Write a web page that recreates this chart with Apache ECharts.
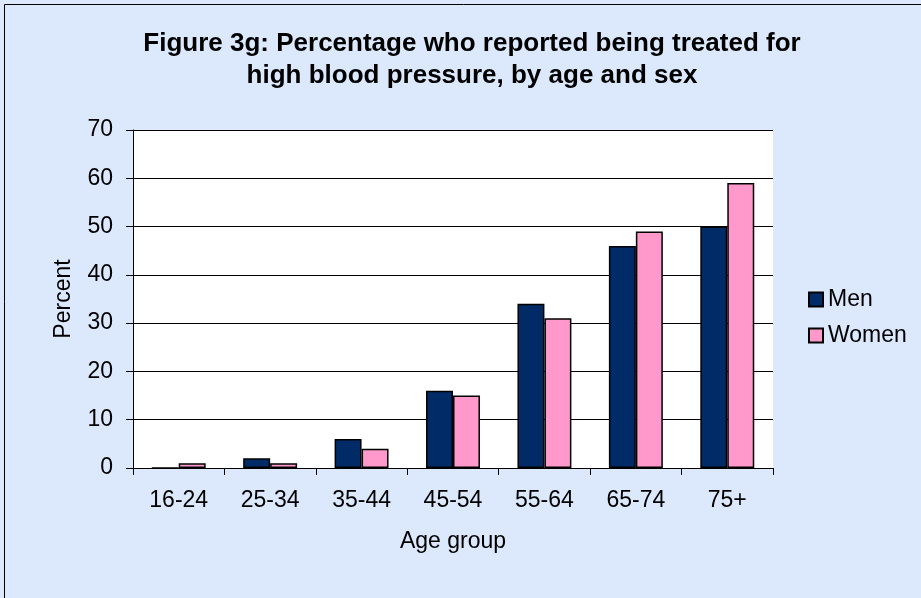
<!DOCTYPE html>
<html>
<head>
<meta charset="utf-8">
<script src="https://cdn.jsdelivr.net/npm/echarts@6/dist/echarts.min.js"></script>
<style>
  html, body { margin: 0; padding: 0; background: #dce9fc; }
  #chart { width: 921px; height: 598px; }
</style>
</head>
<body>
<div id="chart"></div>
<script>
var ageGroups = ['16-24', '25-34', '35-44', '45-54', '55-64', '65-74', '75+']
var men = [0, 2, 6, 16, 34, 46, 50]
var women = [1, 1, 4, 15, 31, 49, 59]
var yTicks = { min: 0, max: 70, step: 10 }

var font = 'Liberation Sans, Arial, sans-serif'
var myChart = echarts.init(document.getElementById('chart'))

myChart.setOption({
  backgroundColor: '#dce9fc',
  animation: false,
  textStyle: { fontFamily: font, color: '#000' },
  graphic: [{
    type: 'rect',
    shape: { x: 4.5, y: 4.5, width: 940, height: 620 },
    style: { fill: 'none', stroke: '#000', lineWidth: 1 },
    silent: true
  }],
  title: {
    text: 'Figure 3g: Percentage who reported being treated for\nhigh blood pressure, by age and sex',
    left: 467,
    top: 23,
    textAlign: 'center',
    textStyle: {
      fontFamily: font,
      fontSize: 26,
      fontWeight: 'bold',
      color: '#000',
      lineHeight: 32
    }
  },
  legend: {
    orient: 'vertical',
    left: 803,
    top: 283,
    itemWidth: 14,
    itemHeight: 14,
    itemGap: 13,
    icon: 'rect',
    itemStyle: { borderColor: '#000', borderWidth: 2 },
    textStyle: { fontFamily: font, fontSize: 23, lineHeight: 23, color: '#000' },
    data: ['Men', 'Women']
  },
  grid: {
    left: 133,
    right: 148,
    top: 130,
    bottom: 130,
    show: true,
    backgroundColor: '#fff',
    borderWidth: 0
  },
  xAxis: {
    type: 'category',
    data: ageGroups,
    name: 'Age group',
    nameLocation: 'middle',
    nameGap: 62,
    nameTextStyle: { fontFamily: font, fontSize: 23, color: '#000' },
    axisLine: { lineStyle: { color: '#000', width: 1 } },
    axisTick: { show: true, length: 7, lineStyle: { color: '#000' } },
    axisLabel: { fontFamily: font, fontSize: 23, color: '#000', margin: 21 }
  },
  yAxis: {
    type: 'value',
    min: yTicks.min,
    max: yTicks.max,
    interval: yTicks.step,
    name: 'Percent',
    nameLocation: 'middle',
    nameGap: 58,
    nameTextStyle: { fontFamily: font, fontSize: 23, color: '#000' },
    axisLine: { show: true, lineStyle: { color: '#000', width: 1 } },
    axisTick: { show: true, length: 7, lineStyle: { color: '#000' } },
    axisLabel: { fontFamily: font, fontSize: 23, color: '#000', margin: 20 },
    splitLine: { show: true, lineStyle: { color: '#000', width: 1 } }
  },
  series: [{
    name: 'Men',
    type: 'bar',
    barGap: '0%',
    barCategoryGap: '41%',
    data: men,
    itemStyle: { color: '#002b66', borderColor: '#000', borderWidth: 1.5 }
  }, {
    name: 'Women',
    type: 'bar',
    data: women,
    itemStyle: { color: '#ff99cc', borderColor: '#000', borderWidth: 1.5 }
  }]
})
</script>
</body>
</html>
